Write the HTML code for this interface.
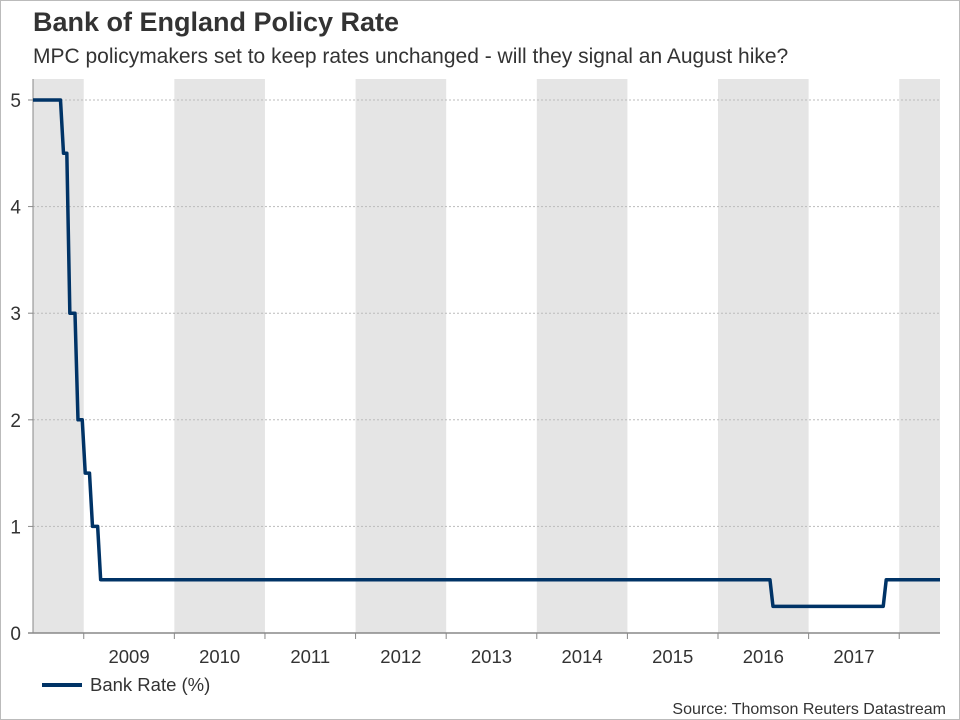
<!DOCTYPE html>
<html><head><meta charset="utf-8"><style>
html,body{margin:0;padding:0;background:#fff;}
body{width:960px;height:720px;overflow:hidden;font-family:"Liberation Sans",Arial,sans-serif;}
#frame{position:absolute;left:0;top:0;width:958px;height:718px;border:1px solid #bbb;}
</style></head><body>
<div id="frame"></div>
<svg id="chart" width="960" height="720" style="position:absolute;left:0;top:0">
<text x="33" y="31" font-size="27" font-weight="bold" fill="#333">Bank of England Policy Rate</text>
<text x="33" y="63" font-size="21" fill="#333">MPC policymakers set to keep rates unchanged - will they signal an August hike?</text>
<g id="bands"></g><g id="grid"></g><g id="axes"></g><g id="series"></g>
<line x1="42" y1="685" x2="82" y2="685" stroke="#003366" stroke-width="4"/>
<text x="90" y="691" font-size="18.5" fill="#333">Bank Rate (%)</text>
<text x="946" y="714" font-size="16" fill="#333" text-anchor="end">Source: Thomson Reuters Datastream</text>
</svg>
<script>
const years=[2009,2010,2011,2012,2013,2014,2015,2016,2017];
const yTicks=[0,1,2,3,4,5];
const changeDates=[2008.42,2008.76,2008.83,2008.92,2009.0,2009.08,2009.17,2016.59,2017.84,2018.46];
const rates=[5,4.5,3,2,1.5,1,0.5,0.25,0.5,0.5];
const X0=33,X1=940,Y0=633,Y1=79;
const xMin=2008.44,xMax=2018.45;
const xs=v=>X0+(v-xMin)/(xMax-xMin)*(X1-X0);
const ys=v=>Y0-(v/5)*(Y0-100);
const NS="http://www.w3.org/2000/svg";
function mk(tag,attrs,parent,txt){const e=document.createElementNS(NS,tag);for(const k in attrs)e.setAttribute(k,attrs[k]);if(txt!==undefined)e.textContent=txt;document.getElementById(parent).appendChild(e);return e;}
for(let y=2008;y<=2018;y+=2){
  const a=Math.max(X0,xs(y)),b=Math.min(X1,xs(y+1));
  const r=mk('rect',{x:a,y:Y1,width:b-a,height:Y0-Y1,fill:'#e5e5e5'},'bands');
  
  
}
yTicks.forEach(t=>{
  if(t>0){const g=mk('line',{x1:X0,x2:X1,y1:ys(t),y2:ys(t),stroke:'#bbb','stroke-dasharray':'2,2'},'grid');
  
  }
  const tk=mk('line',{x1:X0-5,x2:X0,y1:ys(t),y2:ys(t),stroke:'#888'},'axes');
  
  
  const l=mk('text',{x:X0-12,y:ys(t)+7,'font-size':19,fill:'#333','text-anchor':'end'},'axes',String(t));
  
  
});
const ax=mk('line',{x1:X0,x2:X0,y1:Y1,y2:Y0,stroke:'#888'},'axes');


const xa=mk('line',{x1:X0-5,x2:X1,y1:Y0,y2:Y0,stroke:'#888','stroke-width':1.5},'axes');


for(let y=2009;y<=2018;y++){
  const tk=mk('line',{x1:xs(y),x2:xs(y),y1:Y0,y2:Y0+6,stroke:'#888'},'axes');
  
  
}
years.forEach(y=>{
  const l=mk('text',{x:xs(y+0.5),y:Y0+30,'font-size':18.5,fill:'#333','text-anchor':'middle'},'axes',String(y));
  
  
});
let d='';
for(let i=0;i<changeDates.length;i++){
  const x=xs(changeDates[i]),yv=ys(rates[i]);
  if(i===0)d+='M'+X0+','+yv;
  else if(changeDates[i]<xMax) d+=' L'+(x-1.5)+','+ys(rates[i-1])+' L'+(x+1.5)+','+yv;
}
d+=' L'+X1+','+ys(rates[rates.length-1]);
const p=mk('path',{d:d,fill:'none',stroke:'#003366','stroke-width':3.5,'stroke-linejoin':'round'},'series');


</script>
</body></html>
